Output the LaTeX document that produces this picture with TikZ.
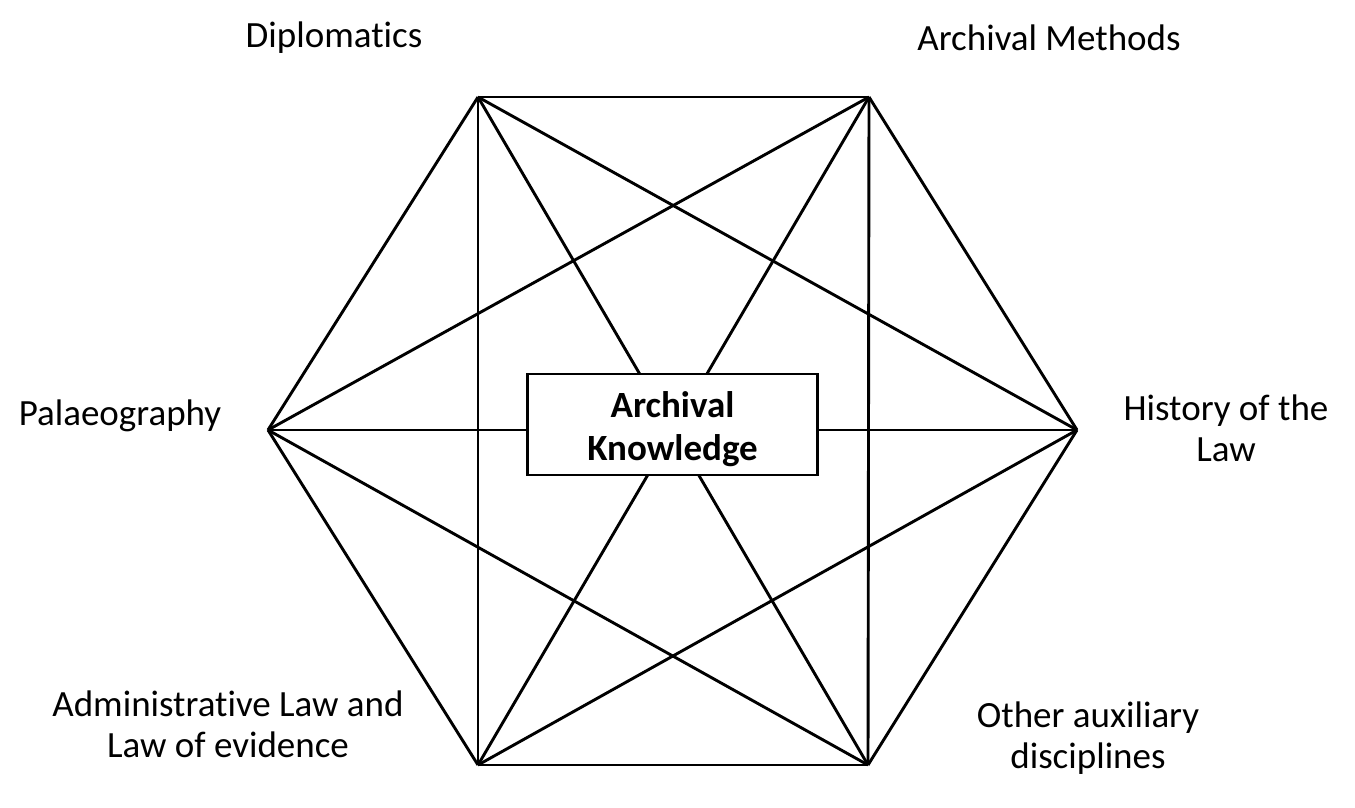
\documentclass[tikz,border=0pt]{standalone}
\usepackage{fontspec}
\setmainfont[Ligatures=NoCommon]{Carlito}
\begin{document}
\begin{tikzpicture}[x=1pt,y=-1pt,
  edge/.style={line width=2.9pt,line join=miter},
  lbl/.style={font=\fontsize{37}{41}\selectfont,align=center,inner sep=0pt},
  centerbox/.style={draw,line width=2.4pt,fill=white,minimum width=290pt,minimum height=101pt},
  centertext/.style={align=center,inner sep=0pt,font=\bfseries\fontsize{37}{43}\selectfont}]
\useasboundingbox (0,0) rectangle (1355,808);
\coordinate (TL) at (478,97);
\coordinate (TR) at (869,97);
\coordinate (R) at (1077,430);
\coordinate (BR) at (868,765);
\coordinate (BL) at (478,765);
\coordinate (L) at (268,430);
\foreach \a/\b in {TL/TR,TR/R,R/BR,BR/BL,BL/L,L/TL,TL/BL,TR/BR,TL/R,TL/BR,TR/L,TR/BL,L/R,L/BR,R/BL}
  \draw[edge] (\a) -- (\b);
\node[centerbox] (box) at (672.5,424.5) {};
\node[centertext] (K) at (672.5,429) {Archival\\Knowledge};
\node[lbl] (d) at (334,38) {Diplomatics};
\node[lbl] (m) at (1049,38) {Archival Methods};
\node[lbl] (p) at (120,416) {Palaeography};
\node[lbl] (h) at (1226,428) {History of the\\Law};
\node[lbl] (a) at (228,724) {Administrative Law and\\Law of evidence};
\node[lbl] (o) at (1088,738) {Other auxiliary\\disciplines};
\end{tikzpicture}
\end{document}
